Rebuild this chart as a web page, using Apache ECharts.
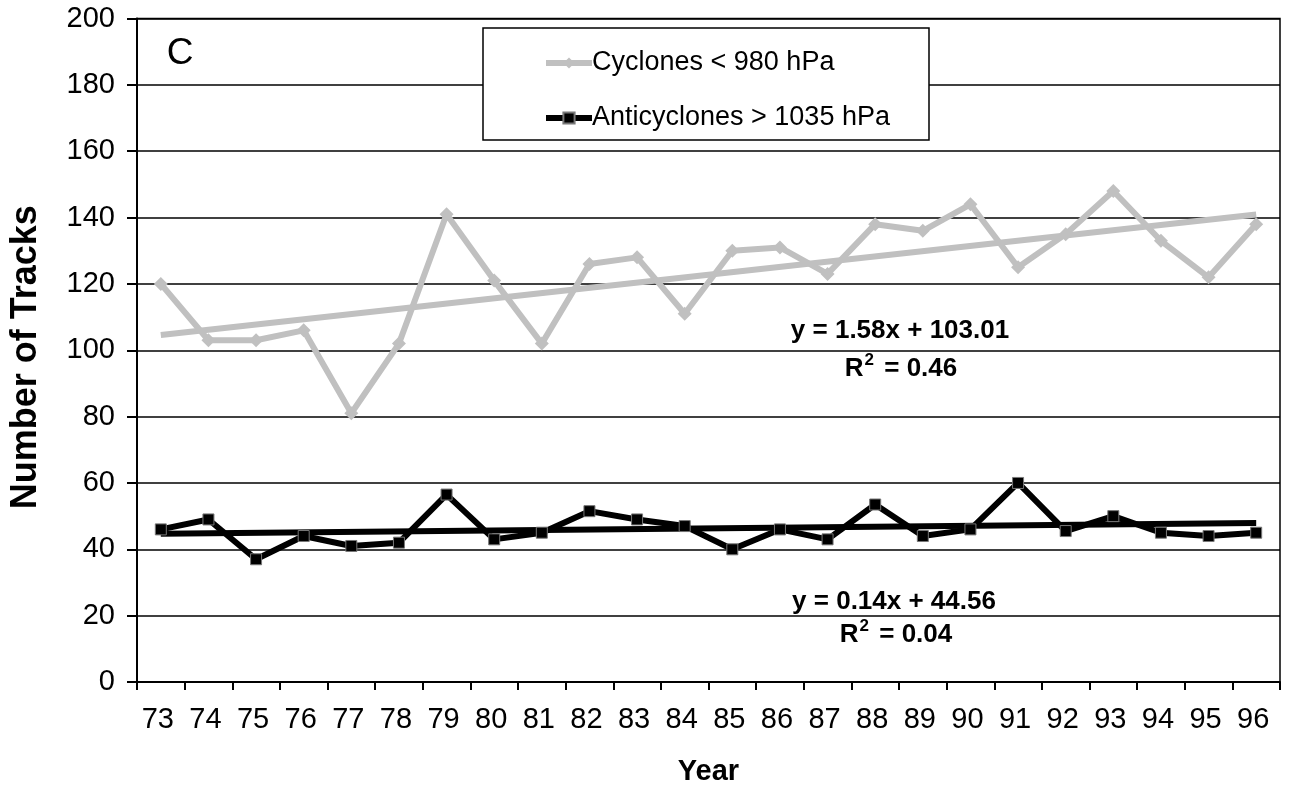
<!DOCTYPE html>
<html>
<head>
<meta charset="utf-8">
<script src="https://cdn.jsdelivr.net/npm/echarts@6/dist/echarts.min.js"></script>
<style>html,body{margin:0;padding:0;background:#fff}#c{width:1289px;height:791px}</style>
</head>
<body>
<div id="c"></div>
<script>
var years = ['73','74','75','76','77','78','79','80','81','82','83','84','85','86','87','88','89','90','91','92','93','94','95','96'];
var cyclones = [120,103,103,106,81,102,141,121,102,126,128,111,130,131,123,138,136,144,125,135,148,133,122,138];
var anticyclones = [46,49,37,44,41,42,56.5,43,45,51.5,49,47,40,46,43,53.5,44,46,60,45.5,50,45,44,45];
// trend lines: end values (start at 73, end at 96)
var cycTrendEnds = [104.6, 140.9];
var antiTrendEnds = [44.7, 47.9];
var yTicks = [0,20,40,60,80,100,120,140,160,180,200];

function trend(ends){
  var a = years.map(function(){return null;});
  a[0] = ends[0]; a[a.length-1] = ends[1];
  return a;
}

var FONT = 'Liberation Sans, Arial, sans-serif';
var supRich = {s: {fontSize: 17, fontWeight: 'bold', fontFamily: FONT, padding: [0,3,18,1]}};
var chart = echarts.init(document.getElementById('c'));
chart.setOption({
  animation: false,
  backgroundColor: '#fff',
  grid: {left: 133.5, right: 9, top: 18.5, bottom: 108, show: true, borderColor: '#000', borderWidth: 1.5, containLabel: false},
  legend: {
    data: ['Cyclones < 980 hPa', 'Anticyclones > 1035 hPa'],
    orient: 'vertical', left: 538, top: 43, z: 30,
    itemWidth: 46, itemHeight: 14, itemGap: 25,
    lineStyle: {width: 6},
    textStyle: {fontFamily: FONT, fontSize: 27, color: '#000', lineHeight: 30, padding: [0,0,0,-5]},
    selectedMode: false
  },
  xAxis: {
    type: 'category', data: years, boundaryGap: true,
    axisLine: {lineStyle: {color: '#000', width: 2}},
    axisTick: {show: true, length: 8, lineStyle: {color: '#000', width: 2}},
    axisLabel: {fontFamily: FONT, fontSize: 29, color: '#000', margin: 23, interval: 0, padding: [0,6,0,0]},
    name: 'Year', nameLocation: 'middle', nameGap: 75,
    nameTextStyle: {fontFamily: FONT, fontSize: 29, fontWeight: 'bold', color: '#000'}
  },
  yAxis: {
    type: 'value', min: yTicks[0], max: yTicks[yTicks.length-1], interval: 20,
    axisLine: {show: true, lineStyle: {color: '#000', width: 2}},
    axisTick: {show: true, length: 10, lineStyle: {color: '#000', width: 2}},
    axisLabel: {fontFamily: FONT, fontSize: 29, color: '#000', margin: 22},
    splitLine: {show: true, lineStyle: {color: '#000', width: 1.5}},
    name: 'Number of Tracks', nameLocation: 'middle', nameGap: 93, nameRotate: 90,
    nameTextStyle: {fontFamily: FONT, fontSize: 36, fontWeight: 'bold', color: '#000', padding: [0,14,0,0]}
  },
  series: [
    {name: 'Cyclones < 980 hPa', type: 'line', data: cyclones, symbol: 'diamond', symbolSize: 14,
     lineStyle: {color: '#c0c0c0', width: 6}, itemStyle: {color: '#c0c0c0'}, z: 3},
    {name: 'cycTrend', type: 'line', data: trend(cycTrendEnds), connectNulls: true, symbol: 'none',
     lineStyle: {color: '#c0c0c0', width: 6}, itemStyle: {color: '#c0c0c0'}, z: 2},
    {name: 'Anticyclones > 1035 hPa', type: 'line', data: anticyclones, symbol: 'rect', symbolSize: 11,
     lineStyle: {color: '#000', width: 6}, itemStyle: {color: '#000', borderColor: '#777', borderWidth: 1}, z: 3},
    {name: 'antiTrend', type: 'line', data: trend(antiTrendEnds), connectNulls: true, symbol: 'none',
     lineStyle: {color: '#000', width: 6}, itemStyle: {color: '#000'}, z: 2}
  ],
  graphic: [
    {type: 'rect', shape: {x: 483, y: 28, width: 446, height: 112}, style: {fill: '#fff', stroke: '#000', lineWidth: 1.5}, z: 5},
    {type: 'text', x: 180, y: 54, style: {text: 'C', font: '37px ' + FONT, fill: '#000', align: 'center', verticalAlign: 'middle'}, z: 11},
    {type: 'text', x: 900, y: 331, style: {text: 'y = 1.58x + 103.01', font: 'bold 26px ' + FONT, fill: '#000', align: 'center', verticalAlign: 'middle'}, z: 11},
    {type: 'text', x: 901, y: 369, style: {text: 'R{s|2} = 0.46', font: 'bold 26px ' + FONT, fill: '#000', align: 'center', verticalAlign: 'middle', rich: supRich}, z: 11},
    {type: 'text', x: 894, y: 602, style: {text: 'y = 0.14x + 44.56', font: 'bold 26px ' + FONT, fill: '#000', align: 'center', verticalAlign: 'middle'}, z: 11},
    {type: 'text', x: 896, y: 635, style: {text: 'R{s|2} = 0.04', font: 'bold 26px ' + FONT, fill: '#000', align: 'center', verticalAlign: 'middle', rich: supRich}, z: 11}
  ]
});
</script>
</body>
</html>
